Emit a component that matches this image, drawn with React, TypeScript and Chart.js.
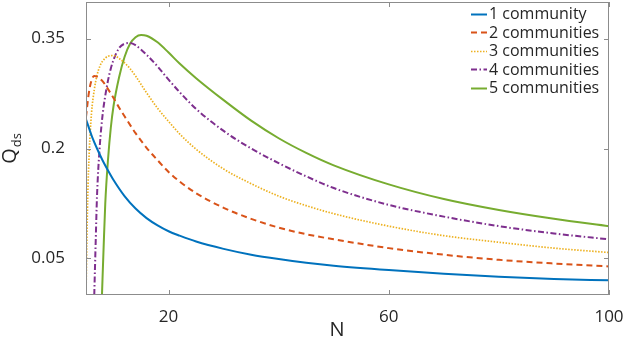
import { useEffect, useRef } from 'react';
import { Chart, registerables } from 'chart.js';

Chart.register(...registerables);

const SERIES_LABELS = ['1 community', '2 communities', '3 communities', '4 communities', '5 communities'];
const SERIES_COLORS = ['#0072BD', '#D95319', '#EDB120', '#7E2F8E', '#77AC30'];

const N1 = [5, 6, 7, 8, 9, 10, 12, 14, 16, 18, 20, 22, 25, 30, 35, 40, 45, 50, 60, 70, 80, 90, 100];
const Q1 = [0.240, 0.218, 0.200, 0.184, 0.170, 0.157, 0.135, 0.118, 0.105, 0.095, 0.087, 0.081, 0.073, 0.063, 0.055, 0.049, 0.044, 0.040, 0.034, 0.029, 0.025, 0.022, 0.020];

const N2 = [5, 5.5, 6, 6.5, 7, 8, 9, 10, 11, 12, 14, 16, 18, 20, 22, 25, 30, 35, 40, 45, 50, 60, 70, 80, 90, 100];
const Q2 = [0.243, 0.275, 0.293, 0.299, 0.298, 0.292, 0.281, 0.269, 0.256, 0.244, 0.221, 0.201, 0.184, 0.168, 0.155, 0.139, 0.119, 0.104, 0.092, 0.083, 0.076, 0.064, 0.055, 0.048, 0.043, 0.039];

const N3 = [5, 5.15, 5.3, 5.6, 6, 6.5, 7, 7.5, 8, 9, 10, 11, 12, 13, 14, 16, 18, 20, 22, 25, 30, 35, 40, 45, 50, 60, 70, 80, 90, 100];
const Q3 = [0.0, 0.07, 0.13, 0.197, 0.248, 0.28, 0.300, 0.312, 0.319, 0.326, 0.327, 0.323, 0.317, 0.309, 0.299, 0.276, 0.255, 0.237, 0.220, 0.199, 0.172, 0.152, 0.135, 0.122, 0.111, 0.094, 0.081, 0.072, 0.064, 0.058];

const N4 = [6.5, 6.75, 7, 7.5, 8, 8.5, 9, 9.5, 10, 11, 12, 13, 14, 16, 18, 20, 22, 25, 30, 35, 40, 45, 50, 60, 70, 80, 90, 100];
const Q4 = [0.0, 0.07, 0.135, 0.203, 0.245, 0.272, 0.293, 0.309, 0.321, 0.337, 0.343, 0.344, 0.341, 0.328, 0.312, 0.294, 0.277, 0.254, 0.224, 0.200, 0.180, 0.162, 0.146, 0.123, 0.107, 0.094, 0.084, 0.076];

const N5 = [7.9, 8.2, 8.5, 9, 9.5, 10, 11, 12, 13, 14, 15, 16, 18, 20, 22, 25, 30, 35, 40, 45, 50, 60, 70, 80, 90, 100];
const Q5 = [0.0, 0.065, 0.125, 0.185, 0.228, 0.258, 0.297, 0.325, 0.343, 0.352, 0.355, 0.354, 0.345, 0.331, 0.316, 0.296, 0.266, 0.238, 0.214, 0.194, 0.177, 0.151, 0.131, 0.116, 0.104, 0.094];

const X_TICKS = [20, 60, 100];
const X_TICK_LABELS = ['20', '60', '100'];
const Y_TICKS = [0.05, 0.2, 0.35];
const Y_TICK_LABELS = ['0.05', '0.2', '0.35'];
const X_TITLE = 'N';
const Y_TITLE_MAIN = 'Q';
const Y_TITLE_SUB = 'ds';

const FONT = '"Open Sans", "DejaVu Sans", sans-serif';
const TEXT_COLOR = '#262626';
const AXIS_COLOR = '#8c8c8c';

const SERIES_N = [N1, N2, N3, N4, N5];
const SERIES_Q = [Q1, Q2, Q3, Q4, Q5];
const SERIES_DASH: number[][] = [[], [6, 4], [1.5, 1.5], [6, 2.5, 1.5, 2.5], []];
const SERIES_WIDTH = [2, 2, 1.7, 2, 2];

const decorPlugin = {
  id: 'decor',
  afterDraw(chart: any) {
    const { ctx, chartArea } = chart;
    const { left, right, top, bottom } = chartArea;
    const xs = chart.scales.x;
    const ys = chart.scales.y;
    ctx.save();
    // box
    ctx.strokeStyle = AXIS_COLOR;
    ctx.lineWidth = 1;
    ctx.setLineDash([]);
    ctx.strokeRect(Math.round(left) + 0.5, Math.round(top) + 0.5, Math.round(right - left) - 1, Math.round(bottom - top) - 1);
    // inward ticks
    const TL = 5;
    ctx.beginPath();
    X_TICKS.forEach((v) => {
      const px = Math.round(xs.getPixelForValue(v)) + 0.5;
      ctx.moveTo(px, bottom);
      ctx.lineTo(px, bottom - TL);
      ctx.moveTo(px, top);
      ctx.lineTo(px, top + TL);
    });
    Y_TICKS.forEach((v) => {
      const py = Math.round(ys.getPixelForValue(v)) + 0.5;
      ctx.moveTo(left, py);
      ctx.lineTo(left + TL, py);
      ctx.moveTo(right, py);
      ctx.lineTo(right - TL, py);
    });
    ctx.stroke();

    // legend
    const lx0 = 471;
    const lx1 = 487;
    const tx = 489;
    const rowY = [13.5, 32, 50.5, 69, 87.5];
    ctx.font = `16px ${FONT}`;
    ctx.textBaseline = 'middle';
    ctx.textAlign = 'left';
    chart.data.datasets.forEach((ds: any, i: number) => {
      const y = rowY[i];
      ctx.strokeStyle = ds.borderColor;
      ctx.lineWidth = ds.borderWidth;
      ctx.setLineDash(ds.borderDash || []);
      ctx.beginPath();
      ctx.moveTo(lx0, Math.round(y) + 0.5);
      ctx.lineTo(lx1, Math.round(y) + 0.5);
      ctx.stroke();
      ctx.fillStyle = TEXT_COLOR;
      ctx.fillText(ds.label, tx, y + 1);
    });
    ctx.setLineDash([]);

    // x title
    ctx.fillStyle = TEXT_COLOR;
    ctx.font = `20px ${FONT}`;
    ctx.textAlign = 'center';
    ctx.textBaseline = 'alphabetic';
    ctx.fillText(X_TITLE, 337, 336);

    // y title with subscript
    ctx.font = `20px ${FONT}`;
    const wQ = ctx.measureText(Y_TITLE_MAIN).width;
    ctx.font = `13px ${FONT}`;
    const wS = ctx.measureText(Y_TITLE_SUB).width;
    const total = wQ + 1 + wS;
    const cy = (top + bottom) / 2;
    ctx.translate(16, cy + total / 2);
    ctx.rotate(-Math.PI / 2);
    ctx.textAlign = 'left';
    ctx.font = `20px ${FONT}`;
    ctx.fillText(Y_TITLE_MAIN, 0, 0);
    ctx.font = `13px ${FONT}`;
    ctx.fillText(Y_TITLE_SUB, wQ + 1, 5);
    ctx.restore();
  },
};

const zeroPad = (s: any) => {
  s.paddingLeft = 0;
  s.paddingRight = 0;
  s.paddingTop = 0;
  s.paddingBottom = 0;
};

export default function App() {
  const ref = useRef<HTMLCanvasElement | null>(null);
  useEffect(() => {
    if (!ref.current) return;
    const datasets = SERIES_LABELS.map((label, i) => ({
      label,
      data: SERIES_N[i].map((x, j) => ({ x, y: SERIES_Q[i][j] })),
      borderColor: SERIES_COLORS[i],
      backgroundColor: SERIES_COLORS[i],
      borderWidth: SERIES_WIDTH[i],
      borderDash: SERIES_DASH[i],
      pointRadius: 0,
      fill: false,
      cubicInterpolationMode: 'monotone' as const,
    }));
    const chart = new Chart(ref.current, {
      type: 'line',
      data: { datasets },
      options: {
        responsive: false,
        animation: false,
        layout: { padding: { top: 2, right: 14, left: 0, bottom: 0 } },
        plugins: { legend: { display: false }, tooltip: { enabled: false } },
        scales: {
          x: {
            type: 'linear',
            min: 5,
            max: 100,
            afterBuildTicks: (s: any) => {
              s.ticks = X_TICKS.map((value) => ({ value }));
            },
            afterFit: (s: any) => {
              s.height = 42;
              zeroPad(s);
            },
            grid: { display: false },
            border: { display: false },
            ticks: {
              autoSkip: false,
              maxRotation: 0,
              padding: 4,
              color: TEXT_COLOR,
              font: { family: FONT, size: 17 },
              callback: (_v: any, i: number) => X_TICK_LABELS[i],
            },
          },
          y: {
            type: 'linear',
            min: 0,
            max: 0.4,
            afterBuildTicks: (s: any) => {
              s.ticks = Y_TICKS.map((value) => ({ value }));
            },
            afterFit: (s: any) => {
              s.width = 86;
              zeroPad(s);
            },
            grid: { display: false },
            border: { display: false },
            ticks: {
              autoSkip: false,
              padding: 13,
              color: TEXT_COLOR,
              font: { family: FONT, size: 17 },
              callback: (_v: any, i: number) => Y_TICK_LABELS[i],
            },
          },
        },
      },
      plugins: [decorPlugin],
    });
    return () => chart.destroy();
  }, []);
  return (
    <div style={{ position: 'absolute', left: 0, top: 0, width: 623, height: 337, background: '#fff' }}>
      <canvas ref={ref} width={623} height={337} style={{ width: 623, height: 337, display: 'block' }} />
    </div>
  );
}
